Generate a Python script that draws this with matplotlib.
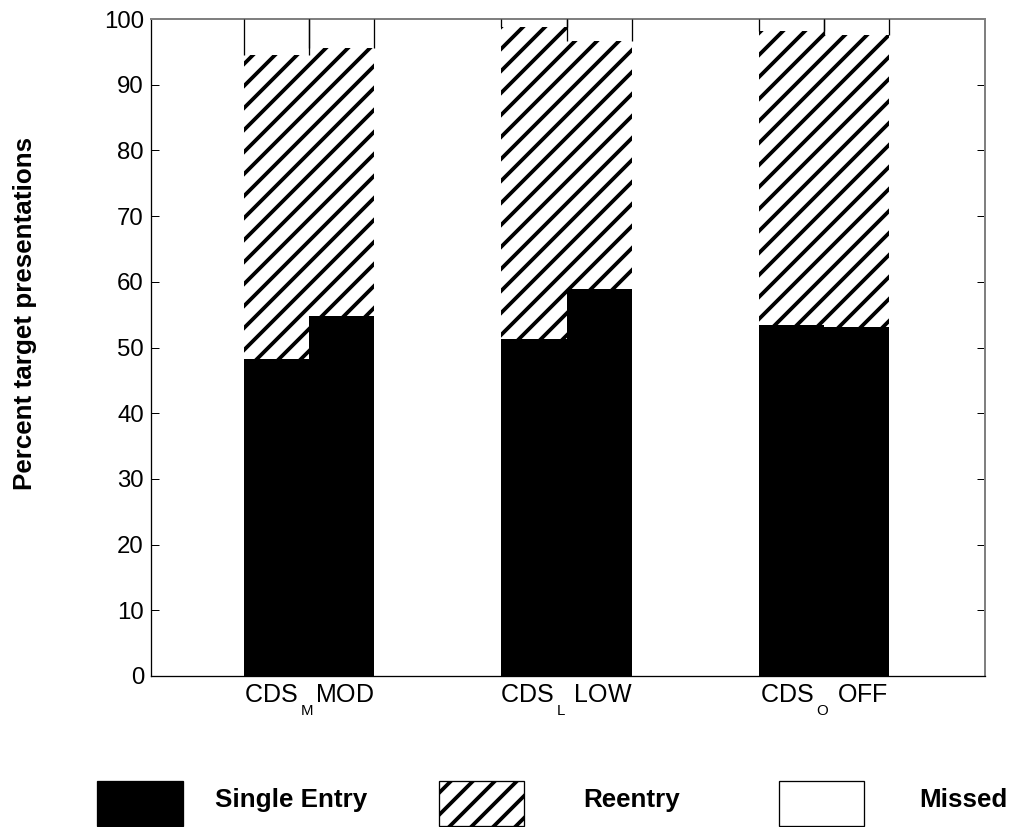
import matplotlib
matplotlib.use('Agg')
import matplotlib.pyplot as plt
from matplotlib.patches import Rectangle
import numpy as np

try:
    import matplotlib._mathtext as _mt
    _mt.SHRINK_FACTOR = 0.6
    _mt.FontConstantsBase.subdrop = 0.95
    _mt.FontConstantsBase.sub1 = 0.95
    _mt.FontConstantsBase.script_space = 0.15
except Exception:
    pass

# ---- data ----
groups = [r'CDS$\,_\mathrm{M}$MOD', r'CDS$\,_\mathrm{L}$ LOW', r'CDS$\,_\mathrm{O}$ OFF']
single_left = [48.2, 51.3, 53.4]
single_right = [54.8, 58.9, 53.1]
reentry_left = [46.3, 47.5, 44.8]
reentry_right = [40.8, 37.8, 44.4]
missed_left = [5.5, 1.2, 1.8]
missed_right = [4.6, 3.3, 2.5]
yticks = [0, 10, 20, 30, 40, 50, 60, 70, 80, 90, 100]
legend_labels = ['Single Entry', 'Reentry', 'Missed']

DPI = 66
W, H = 1027, 827
P = 72.0 / DPI  # points per pixel


def px(v):
    return v * P


plt.rcParams['font.family'] = ['Liberation Sans', 'DejaVu Sans']
plt.rcParams['mathtext.fontset'] = 'custom'
plt.rcParams['mathtext.rm'] = 'Liberation Sans'
plt.rcParams['mathtext.it'] = 'Liberation Sans:italic'
plt.rcParams['mathtext.bf'] = 'Liberation Sans:bold'
plt.rcParams['hatch.linewidth'] = px(3.8)

fig = plt.figure(figsize=(W / DPI, H / DPI), dpi=DPI)
ax = fig.add_axes([151 / W, 1 - 676 / H, (985 - 151) / W, (676 - 19) / H])

x = np.arange(1, len(groups) + 1)
w = 0.254
xl = x - w / 2
xr = x + w / 2

for xs, s, r, m in [(xl, single_left, reentry_left, missed_left),
                    (xr, single_right, reentry_right, missed_right)]:
    s = np.array(s); r = np.array(r); m = np.array(m)
    ax.bar(xs, s, w, color='black', edgecolor='none', zorder=2)
    ax.bar(xs, r, w, bottom=s, color='white', edgecolor='black', hatch='/',
           linewidth=0, zorder=2)
    ax.bar(xs, m, w, bottom=s + r, color='white', edgecolor='none', zorder=2)
    ax.vlines(xs - w / 2, s + r, 100, color='black', lw=px(1.3), zorder=3)
    ax.vlines(xs + w / 2, s + r, 100, color='black', lw=px(1.3), zorder=3)

ax.set_xlim(0.386, 3.625)
ax.set_ylim(0, 100)
ax.set_yticks(yticks)
ax.set_yticklabels([str(v) for v in yticks], fontsize=px(24))
ax.tick_params(axis='y', direction='in', length=px(8), width=px(1), left=True,
               right=True, pad=px(7), color='black')
ax.set_xticks(x)
ax.set_xticklabels(groups, fontsize=px(25))
ax.tick_params(axis='x', length=0, pad=px(7))

for side in ['top', 'right']:
    ax.spines[side].set_color('#808080')
    ax.spines[side].set_linewidth(px(2))
for side in ['left', 'bottom']:
    ax.spines[side].set_color('black')
    ax.spines[side].set_linewidth(px(1.3))

top = ax.secondary_xaxis('top')
tpos = np.sort(np.concatenate([xl - w / 2, xl, x, xr, xr + w / 2]))
top.set_xticks(tpos)
top.set_xticklabels([])
top.tick_params(direction='in', length=px(6), width=px(1), color='#444444')
top.spines['top'].set_visible(False)

fig.text(25 / W, 1 - 313 / H, 'Percent target presentations', rotation=90,
         ha='center', va='center', fontsize=px(26), fontweight='bold')

tr = fig.transFigure
rects = [(97, 183), (439, 524), (779, 864)]
texts = [215, 583, 919]
styles = [dict(facecolor='black', edgecolor='black'),
          dict(facecolor='white', edgecolor='black', hatch='/'),
          dict(facecolor='white', edgecolor='black')]
for (x0, x1), tx, st, lab in zip(rects, texts, styles, legend_labels):
    fig.patches.append(Rectangle((x0 / W, 1 - 826 / H), (x1 - x0) / W, 45 / H,
                                 transform=tr, linewidth=px(1.3), **st))
    fig.text(tx / W, 1 - 807 / H, lab, ha='left', va='baseline',
             fontsize=px(26), fontweight='bold')

fig.savefig('out.png', dpi=DPI)
